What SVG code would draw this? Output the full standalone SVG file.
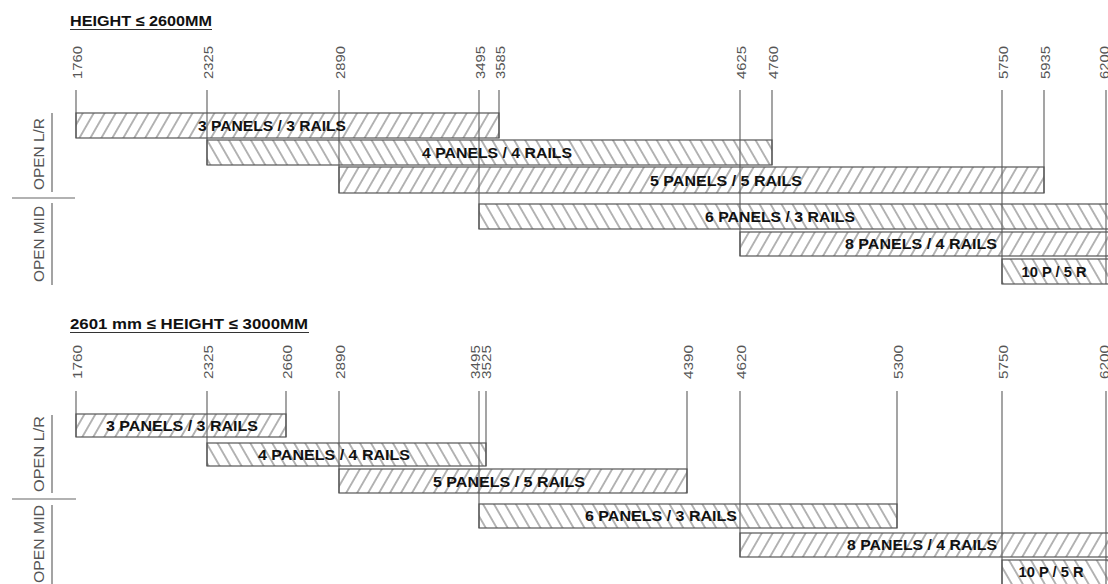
<svg xmlns="http://www.w3.org/2000/svg" width="1108" height="584" viewBox="0 0 1108 584">
<defs>
<pattern id="hf" width="9.5" height="9.5" patternUnits="userSpaceOnUse" patternTransform="rotate(30)"><line x1="4.75" y1="-1" x2="4.75" y2="10.5" stroke="#6a6a6a" stroke-width="1"/></pattern>
<pattern id="hb" width="9.5" height="9.5" patternUnits="userSpaceOnUse" patternTransform="rotate(-30)"><line x1="4.75" y1="-1" x2="4.75" y2="10.5" stroke="#6a6a6a" stroke-width="1"/></pattern>
<style>
.t{font-family:"Liberation Sans",Arial,sans-serif;font-weight:bold;fill:#111}
.title{font-size:15px}
.bl{font-size:15px;text-anchor:middle}
.num{font-family:"Liberation Sans",Arial,sans-serif;font-size:13px;fill:#555}
.side{font-family:"Liberation Sans",Arial,sans-serif;font-size:15px;fill:#555;text-anchor:middle}
.bar{stroke:#555;stroke-width:1.2}
.f{fill:url(#hf)}
.b{fill:url(#hb)}
.tk{stroke:#5a5a5a;stroke-width:1.1;fill:none}
.dv{stroke:#666;stroke-width:1.2;fill:none}
</style>
</defs>
<rect width="1108" height="584" fill="#fff"/>

<g id="titles">
<text class="t title" x="70" y="26" textLength="142" lengthAdjust="spacingAndGlyphs">HEIGHT ≤ 2600MM</text>
<line x1="70" y1="29.5" x2="212" y2="29.5" stroke="#333" stroke-width="1.2"/>
<text class="t title" x="70" y="329" font-size="14" textLength="238" lengthAdjust="spacingAndGlyphs">2601 mm ≤ HEIGHT ≤ 3000MM</text>
<line x1="70" y1="332.5" x2="309" y2="332.5" stroke="#333" stroke-width="1.2"/>
</g>

<g id="side-labels">
<text class="side" transform="translate(44,154) rotate(-90)" textLength="72" lengthAdjust="spacingAndGlyphs">OPEN L/R</text>
<text class="side" transform="translate(44,244) rotate(-90)" textLength="76" lengthAdjust="spacingAndGlyphs">OPEN MID</text>
<line class="dv" x1="52" y1="113" x2="52" y2="192"/>
<line class="dv" x1="52" y1="203" x2="52" y2="285"/>
<line class="dv" x1="12" y1="198" x2="75" y2="198"/>
<text class="side" transform="translate(44,454) rotate(-90)" textLength="76" lengthAdjust="spacingAndGlyphs">OPEN L/R</text>
<text class="side" transform="translate(44,544) rotate(-90)" textLength="78" lengthAdjust="spacingAndGlyphs">OPEN MID</text>
<line class="dv" x1="52" y1="415" x2="52" y2="493"/>
<line class="dv" x1="52" y1="505" x2="52" y2="584"/>
<line class="dv" x1="12" y1="499" x2="76" y2="499"/>
</g>

<g id="connectors">
<line class="tk" x1="76" y1="90" x2="76" y2="138"/>
<line class="tk" x1="207" y1="90" x2="207" y2="165"/>
<line class="tk" x1="339" y1="90" x2="339" y2="193"/>
<line class="tk" x1="479" y1="90" x2="479" y2="229"/>
<line class="tk" x1="499" y1="90" x2="499" y2="138"/>
<line class="tk" x1="740" y1="90" x2="740" y2="256"/>
<line class="tk" x1="772" y1="90" x2="772" y2="165"/>
<line class="tk" x1="1002" y1="90" x2="1002" y2="284"/>
<line class="tk" x1="1044" y1="90" x2="1044" y2="193"/>
<line class="tk" x1="1106" y1="90" x2="1106" y2="284"/>

<line class="tk" x1="76" y1="391" x2="76" y2="437"/>
<line class="tk" x1="207" y1="391" x2="207" y2="466"/>
<line class="tk" x1="286" y1="391" x2="286" y2="437"/>
<line class="tk" x1="339" y1="391" x2="339" y2="493"/>
<line class="tk" x1="479" y1="391" x2="479" y2="528"/>
<line class="tk" x1="486" y1="391" x2="486" y2="466"/>
<line class="tk" x1="687" y1="391" x2="687" y2="493"/>
<line class="tk" x1="740" y1="391" x2="740" y2="557"/>
<line class="tk" x1="897" y1="391" x2="897" y2="528"/>
<line class="tk" x1="1002" y1="391" x2="1002" y2="584"/>
<line class="tk" x1="1106" y1="391" x2="1106" y2="584"/>
</g>

<g id="ticks-top">
<text class="num" transform="translate(82,79) rotate(-90)" textLength="33" lengthAdjust="spacingAndGlyphs">1760</text>
<text class="num" transform="translate(213,79) rotate(-90)" textLength="33" lengthAdjust="spacingAndGlyphs">2325</text>
<text class="num" transform="translate(345,79) rotate(-90)" textLength="33" lengthAdjust="spacingAndGlyphs">2890</text>
<text class="num" transform="translate(485,79) rotate(-90)" textLength="33" lengthAdjust="spacingAndGlyphs">3495</text>
<text class="num" transform="translate(505,79) rotate(-90)" textLength="33" lengthAdjust="spacingAndGlyphs">3585</text>
<text class="num" transform="translate(746,79) rotate(-90)" textLength="33" lengthAdjust="spacingAndGlyphs">4625</text>
<text class="num" transform="translate(778,79) rotate(-90)" textLength="33" lengthAdjust="spacingAndGlyphs">4760</text>
<text class="num" transform="translate(1008,79) rotate(-90)" textLength="33" lengthAdjust="spacingAndGlyphs">5750</text>
<text class="num" transform="translate(1050,79) rotate(-90)" textLength="33" lengthAdjust="spacingAndGlyphs">5935</text>
<text class="num" transform="translate(1109,79) rotate(-90)" textLength="33" lengthAdjust="spacingAndGlyphs">6200</text>
</g>

<g id="ticks-bottom">
<text class="num" transform="translate(82,379) rotate(-90)" textLength="34" lengthAdjust="spacingAndGlyphs">1760</text>
<text class="num" transform="translate(213,379) rotate(-90)" textLength="34" lengthAdjust="spacingAndGlyphs">2325</text>
<text class="num" transform="translate(292,379) rotate(-90)" textLength="34" lengthAdjust="spacingAndGlyphs">2660</text>
<text class="num" transform="translate(345,379) rotate(-90)" textLength="34" lengthAdjust="spacingAndGlyphs">2890</text>
<text class="num" transform="translate(480,379) rotate(-90)" textLength="34" lengthAdjust="spacingAndGlyphs">3495</text>
<text class="num" transform="translate(491,379) rotate(-90)" textLength="34" lengthAdjust="spacingAndGlyphs">3525</text>
<text class="num" transform="translate(693,379) rotate(-90)" textLength="34" lengthAdjust="spacingAndGlyphs">4390</text>
<text class="num" transform="translate(746,379) rotate(-90)" textLength="34" lengthAdjust="spacingAndGlyphs">4620</text>
<text class="num" transform="translate(903,379) rotate(-90)" textLength="34" lengthAdjust="spacingAndGlyphs">5300</text>
<text class="num" transform="translate(1008,379) rotate(-90)" textLength="34" lengthAdjust="spacingAndGlyphs">5750</text>
<text class="num" transform="translate(1109,379) rotate(-90)" textLength="34" lengthAdjust="spacingAndGlyphs">6200</text>
</g>

<g id="top-3p"><rect class="bar f" x="76" y="113" width="423" height="25"/><text class="t bl" x="272" y="131" textLength="148" lengthAdjust="spacingAndGlyphs">3 PANELS / 3 RAILS</text></g>
<g id="top-4p"><rect class="bar b" x="207" y="140" width="565" height="25"/><text class="t bl" x="497" y="158" textLength="150" lengthAdjust="spacingAndGlyphs">4 PANELS / 4 RAILS</text></g>
<g id="top-5p"><rect class="bar f" x="339" y="167" width="705" height="26"/><text class="t bl" x="726" y="186" textLength="152" lengthAdjust="spacingAndGlyphs">5 PANELS / 5 RAILS</text></g>
<g id="top-6p"><rect class="bar b" x="479" y="204" width="640" height="25"/><text class="t bl" x="780" y="222" textLength="150" lengthAdjust="spacingAndGlyphs">6 PANELS / 3 RAILS</text></g>
<g id="top-8p"><rect class="bar f" x="740" y="232" width="380" height="24"/><text class="t bl" x="921" y="249" textLength="152" lengthAdjust="spacingAndGlyphs">8 PANELS / 4 RAILS</text></g>
<g id="top-10p"><rect class="bar b" x="1002" y="259" width="120" height="25"/><text class="t bl" x="1054" y="277" textLength="65" lengthAdjust="spacingAndGlyphs">10 P / 5 R</text></g>

<g id="bot-3p"><rect class="bar f" x="76" y="414" width="210" height="23"/><text class="t bl" x="182" y="431" textLength="152" lengthAdjust="spacingAndGlyphs">3 PANELS / 3 RAILS</text></g>
<g id="bot-4p"><rect class="bar b" x="207" y="443" width="279" height="23"/><text class="t bl" x="334" y="460" textLength="152" lengthAdjust="spacingAndGlyphs">4 PANELS / 4 RAILS</text></g>
<g id="bot-5p"><rect class="bar f" x="339" y="469" width="348" height="24"/><text class="t bl" x="509" y="487" textLength="152" lengthAdjust="spacingAndGlyphs">5 PANELS / 5 RAILS</text></g>
<g id="bot-6p"><rect class="bar b" x="479" y="504" width="418" height="24"/><text class="t bl" x="661" y="521" textLength="152" lengthAdjust="spacingAndGlyphs">6 PANELS / 3 RAILS</text></g>
<g id="bot-8p"><rect class="bar f" x="740" y="533" width="380" height="24"/><text class="t bl" x="922" y="550" textLength="150" lengthAdjust="spacingAndGlyphs">8 PANELS / 4 RAILS</text></g>
<g id="bot-10p"><rect class="bar b" x="1002" y="560" width="120" height="26"/><text class="t bl" x="1051" y="577" textLength="65" lengthAdjust="spacingAndGlyphs">10 P / 5 R</text></g>
</svg>
